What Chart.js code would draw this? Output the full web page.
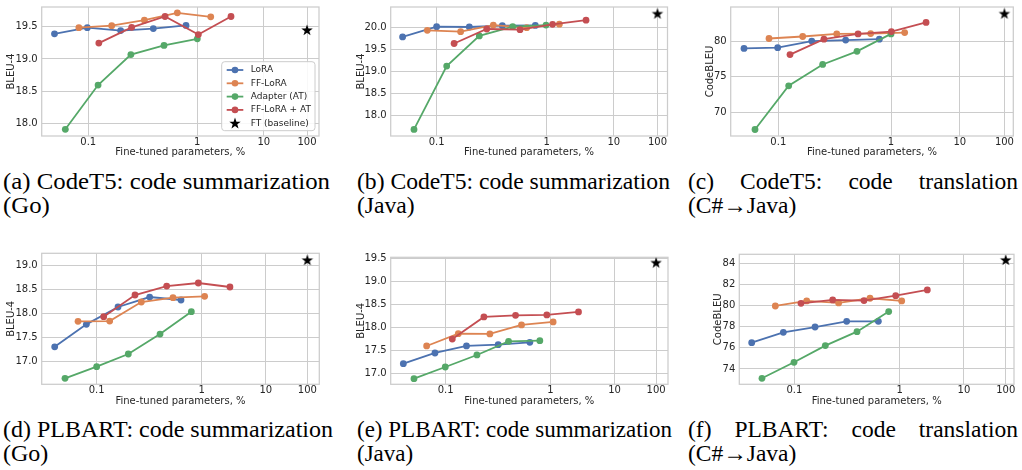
<!DOCTYPE html>
<html>
<head>
<meta charset="utf-8">
<script src="https://cdn.jsdelivr.net/npm/chart.js@4.4.1/dist/chart.umd.min.js"></script>
<style>
html,body{margin:0;padding:0;background:#fff;}
#fig{position:relative;width:1022px;height:470px;overflow:hidden;background:#fff;}
.cap{position:absolute;font-family:"Liberation Serif","Times New Roman",serif;font-size:23.5px;line-height:24px;color:#000;}
.cap div{white-space:nowrap;transform-origin:0 50%;}
.cap .just{text-align:justify;text-align-last:justify;}
.cap span{display:inline-block;}
</style>
</head>
<body>
<div id="fig"></div>
<script>
// ---------------- DATA ----------------
const seriesLabels = ['LoRA', 'FF-LoRA', 'Adapter (AT)', 'FF-LoRA + AT', 'FT (baseline)'];
const xTicks = [0.1, 1, 10, 100];
const xTickLabels = ['0.1', '1', '10', '100'];
const xTitle = 'Fine-tuned parameters, %';
const yTitles = ['BLEU-4', 'BLEU-4', 'CodeBLEU', 'BLEU-4', 'BLEU-4', 'CodeBLEU'];
const captionLine1 = ['(a) CodeT5: code summarization', '(b) CodeT5: code summarization', '(c) CodeT5: code translation',
                      '(d) PLBART: code summarization', '(e) PLBART: code summarization', '(f) PLBART: code translation'];
const captionLine2 = ['(Go)', '(Java)', '(C#\u2192Java)', '(Go)', '(Java)', '(C#\u2192Java)'];
const ftX = [100];

// (a) CodeT5, summarization Go
const aLoraX = [0.049, 0.098, 0.198, 0.395, 0.788];
const aLoraY = [19.39, 19.485, 19.44, 19.47, 19.52];
const aFfLoraX = [0.082, 0.164, 0.327, 0.656, 1.48];
const aFfLoraY = [19.485, 19.515, 19.60, 19.714, 19.653];
const aAdapterX = [0.0616, 0.123, 0.246, 0.495, 1.0];
const aAdapterY = [17.91, 18.595, 19.068, 19.21, 19.312];
const aFfLoraAtX = [0.125, 0.25, 0.506, 1.03, 2.84];
const aFfLoraAtY = [19.246, 19.49, 19.658, 19.378, 19.658];
const aFtY = [19.449];
const aYTicks = [18.0, 18.5, 19.0, 19.5];

// (b) CodeT5, summarization Java
const bLoraX = [0.049, 0.0999, 0.198, 0.395, 0.788];
const bLoraY = [19.79, 20.022, 20.015, 20.045, 20.052];
const bFfLoraX = [0.0822, 0.165, 0.327, 0.658, 1.44];
const bFfLoraY = [19.94, 19.91, 20.06, 20.0, 20.08];
const bAdapterX = [0.0622, 0.1233, 0.244, 0.491, 0.986];
const bAdapterY = [17.687, 19.127, 19.813, 20.022, 20.06];
const bFfLoraAtX = [0.144, 0.285, 0.572, 1.18, 3.41];
const bFfLoraAtY = [19.64, 19.97, 19.955, 20.075, 20.17];
const bFtY = [20.32];
const bYTicks = [18.0, 18.5, 19.0, 19.5, 20.0];

// (c) CodeT5, translation C# -> Java
const cLoraX = [0.0496, 0.0987, 0.198, 0.396, 0.788];
const cLoraY = [79.02, 79.12, 80.05, 80.19, 80.33];
const cFfLoraX = [0.0827, 0.1645, 0.33, 0.66, 1.47];
const cFfLoraY = [80.42, 80.70, 81.07, 81.12, 81.26];
const cAdapterX = [0.0621, 0.1236, 0.2475, 0.499, 1.0];
const cAdapterY = [67.53, 73.72, 76.74, 78.6, 81.07];
const cFfLoraAtX = [0.127, 0.254, 0.51, 1.01, 2.86];
const cFfLoraAtY = [78.14, 80.33, 81.07, 81.40, 82.70];
const cFtY = [83.95];
const cYTicks = [70, 75, 80];

// (d) PLBART, summarization Go
const dLoraX = [0.0398, 0.0797, 0.1596, 0.3195, 0.635];
const dLoraY = [17.31, 17.778, 18.139, 18.347, 18.285];
const dFfLoraX = [0.0664, 0.1329, 0.266, 0.533, 1.09];
const dFfLoraY = [17.84, 17.847, 18.243, 18.333, 18.361];
const dAdapterX = [0.0499, 0.0999, 0.2, 0.401, 0.797];
const dAdapterY = [16.653, 16.896, 17.16, 17.576, 18.042];
const dFfLoraAtX = [0.1165, 0.2316, 0.464, 0.929, 2.45];
const dFfLoraAtY = [17.938, 18.389, 18.576, 18.639, 18.556];
const dFtY = [19.118];
const dYTicks = [17.0, 17.5, 18.0, 18.5, 19.0];

// (e) PLBART, summarization Java
const eLoraX = [0.0395, 0.0791, 0.158, 0.317, 0.635];
const eLoraY = [17.217, 17.448, 17.60, 17.629, 17.679];
const eFfLoraX = [0.0659, 0.132, 0.264, 0.529, 1.08];
const eFfLoraY = [17.60, 17.867, 17.86, 18.055, 18.12];
const eAdapterX = [0.0499, 0.0992, 0.1987, 0.398, 0.791];
const eAdapterY = [16.892, 17.145, 17.405, 17.70, 17.715];
const eFfLoraAtX = [0.1157, 0.2316, 0.464, 0.922, 2.43];
const eFfLoraAtY = [17.75, 18.228, 18.264, 18.272, 18.337];
const eFtY = [19.406];
const eYTicks = [17.0, 17.5, 18.0, 18.5, 19.0, 19.5];

// (f) PLBART, translation C# -> Java
const fLoraX = [0.0393, 0.0785, 0.157, 0.3135, 0.627];
const fLoraY = [76.49, 77.47, 77.97, 78.51, 78.51];
const fFfLoraX = [0.0659, 0.1308, 0.263, 0.522, 1.06];
const fFfLoraY = [79.96, 80.435, 80.246, 80.69, 80.435];
const fAdapterX = [0.0492, 0.0991, 0.1966, 0.393, 0.786];
const fAdapterY = [73.12, 74.63, 76.21, 77.53, 79.43];
const fFfLoraAtX = [0.1155, 0.2309, 0.458, 0.916, 2.39];
const fFfLoraAtY = [80.21, 80.53, 80.47, 80.94, 81.48];
const fFtY = [84.32];
const fYTicks = [74, 76, 78, 80, 82, 84];

// ---------------- SCALE (log below 1 %, compressed above) ----------------
const CA = 0.61, CR = 0.65;
function fwd(x) {
  const u = Math.log10(x);
  return u <= 0 ? u : CA * (1 - Math.pow(CR, u)) / (1 - CR);
}
function inv(t) {
  if (t <= 0) return Math.pow(10, t);
  return Math.pow(10, Math.log(1 - t * (1 - CR) / CA) / Math.log(CR));
}
class CompressedLogScale extends Chart.Scale {
  static id = 'compressedLog';
  static defaults = {};
  determineDataLimits() { this.min = this.options.min; this.max = this.options.max; }
  buildTicks() { return (this.options.tickValues || []).map(v => ({ value: v })); }
  getLabelForValue(v) { return String(v); }
  configure() {
    super.configure();
    this._tStart = fwd(this.min);
    this._tRange = fwd(this.max) - this._tStart;
  }
  getPixelForValue(v) {
    if (v === null || v === undefined || isNaN(v)) return NaN;
    return this.getPixelForDecimal((fwd(v) - this._tStart) / this._tRange);
  }
  getValueForPixel(p) { return inv(this._tStart + this.getDecimalForPixel(p) * this._tRange); }
}
Chart.register(CompressedLogScale);

// ---------------- STYLE ----------------
const COLORS = ['#4C72B0', '#DD8452', '#55A868', '#C44E52'];
const TEXT = '#262626';
const GRID = '#cccccc';
Chart.defaults.font.family = "'DejaVu Sans', sans-serif";
Chart.defaults.font.size = 10;
Chart.defaults.color = TEXT;

function starPath(ctx, cx, cy, ro, ri) {
  ctx.beginPath();
  for (let k = 0; k < 10; k++) {
    const r = k % 2 === 0 ? ro : ri;
    const a = -Math.PI / 2 + k * Math.PI / 5;
    const px = cx + r * Math.cos(a), py = cy + r * Math.sin(a);
    if (k === 0) ctx.moveTo(px, py); else ctx.lineTo(px, py);
  }
  ctx.closePath();
}
const starImg = document.createElement('canvas');
starImg.width = 14; starImg.height = 14;
(function () { const c = starImg.getContext('2d'); starPath(c, 7, 7.4, 6, 2.4); c.fillStyle = '#000'; c.fill(); })();

const framePlugin = {
  id: 'frame',
  beforeDatasetsDraw(chart) {
    const { ctx, chartArea: a } = chart;
    ctx.save();
    ctx.strokeStyle = GRID; ctx.lineWidth = 1.25;
    ctx.strokeRect(a.left, a.top, a.right - a.left, a.bottom - a.top);
    ctx.restore();
  }
};
const legendPlugin = {
  id: 'legendBox',
  afterDatasetsDraw(chart, args, opts) {
    if (!opts || !opts.show) return;
    const { ctx, chartArea: a } = chart;
    const w = 93.3, h = 69;
    const x = a.right - 4 - w, y = a.bottom - 5.3 - h;
    ctx.save();
    ctx.beginPath();
    const r = 3;
    ctx.moveTo(x + r, y); ctx.lineTo(x + w - r, y); ctx.arcTo(x + w, y, x + w, y + r, r);
    ctx.lineTo(x + w, y + h - r); ctx.arcTo(x + w, y + h, x + w - r, y + h, r);
    ctx.lineTo(x + r, y + h); ctx.arcTo(x, y + h, x, y + h - r, r);
    ctx.lineTo(x, y + r); ctx.arcTo(x, y, x + r, y, r); ctx.closePath();
    ctx.fillStyle = 'rgba(255,255,255,0.85)'; ctx.fill();
    ctx.strokeStyle = GRID; ctx.lineWidth = 1; ctx.stroke();
    ctx.font = "9px 'DejaVu Sans', sans-serif";
    ctx.textBaseline = 'middle';
    chart.data.datasets.forEach((ds, i) => {
      const cy = y + 8.3 + i * 13.3;
      if (ds.showLine) {
        ctx.strokeStyle = ds.borderColor; ctx.lineWidth = ds.borderWidth;
        ctx.beginPath(); ctx.moveTo(x + 5, cy); ctx.lineTo(x + 21.6, cy); ctx.stroke();
        ctx.fillStyle = ds.borderColor;
        ctx.beginPath(); ctx.arc(x + 13.3, cy, 3.3, 0, Math.PI * 2); ctx.fill();
      } else {
        ctx.fillStyle = '#000'; starPath(ctx, x + 13.3, cy + 0.4, 6, 2.4); ctx.fill();
      }
      ctx.fillStyle = TEXT;
      ctx.fillText(ds.label, x + 29, cy);
    });
    ctx.restore();
  }
};

function pts(xs, ys) { return xs.map((x, i) => ({ x: x, y: ys[i] })); }
function lineDs(k, xs, ys) {
  return {
    label: seriesLabels[k], data: pts(xs, ys), showLine: true,
    borderColor: COLORS[k], backgroundColor: COLORS[k], pointBackgroundColor: COLORS[k],
    borderWidth: 1.8, pointRadius: 3.4, pointHoverRadius: 3.4, pointBorderWidth: 0,
    fill: false, tension: 0, order: 4 - k
  };
}
function ftDs(ys) {
  return { label: seriesLabels[4], data: pts(ftX, ys), showLine: false, pointStyle: starImg,
           pointRadius: 6, backgroundColor: '#000', borderColor: '#000', order: 0 };
}

// layout of each panel (canvas box, padding, axis sizes, view ranges)
const panels = [
  { left: 0, top: 0, w: 330, h: 165, pad: { left: 5.7, top: 5, right: 11, bottom: 6.3 }, yW: 36, xH: 22.7,
    xRange: [0.0374, 237], yRange: [17.806, 19.805], yTicks: aYTicks, dec: 1, yTitle: yTitles[0], legend: true,
    ds: [lineDs(0, aLoraX, aLoraY), lineDs(1, aFfLoraX, aFfLoraY), lineDs(2, aAdapterX, aAdapterY), lineDs(3, aFfLoraAtX, aFfLoraAtY), ftDs(aFtY)] },
  { left: 345, top: 0, w: 330, h: 165, pad: { left: 10.7, top: 5, right: 7.5, bottom: 6.3 }, yW: 35, xH: 22.7,
    xRange: [0.0382, 203], yRange: [17.537, 20.47], yTicks: bYTicks, dec: 1, yTitle: yTitles[1], legend: false,
    ds: [lineDs(0, bLoraX, bLoraY), lineDs(1, bFfLoraX, bFfLoraY), lineDs(2, bAdapterX, bAdapterY), lineDs(3, bFfLoraAtX, bFfLoraAtY), ftDs(bFtY)] },
  { left: 690, top: 0, w: 332, h: 165, pad: { left: 14.7, top: 5, right: 8.7, bottom: 6.3 }, yW: 26, xH: 22.7,
    xRange: [0.0378, 183], yRange: [66.61, 84.88], yTicks: cYTicks, dec: 0, yTitle: yTitles[2], legend: false,
    ds: [lineDs(0, cLoraX, cLoraY), lineDs(1, cFfLoraX, cFfLoraY), lineDs(2, cAdapterX, cAdapterY), lineDs(3, cFfLoraAtX, cFfLoraAtY), ftDs(cFtY)] },
  { left: 0, top: 240, w: 330, h: 172, pad: { left: 5.7, top: 13.3, right: 10.7, bottom: 5 }, yW: 36, xH: 22.7,
    xRange: [0.02993, 245], yRange: [16.529, 19.258], yTicks: dYTicks, dec: 1, yTitle: yTitles[3], legend: false,
    ds: [lineDs(0, dLoraX, dLoraY), lineDs(1, dFfLoraX, dFfLoraY), lineDs(2, dAdapterX, dAdapterY), lineDs(3, dFfLoraAtX, dFfLoraAtY), ftDs(dFtY)] },
  { left: 345, top: 240, w: 330, h: 172, pad: { left: 10.7, top: 17.3, right: 6.7, bottom: 5 }, yW: 35, xH: 22.7,
    xRange: [0.02993, 245], yRange: [16.77, 19.52], yTicks: eYTicks, dec: 1, yTitle: yTitles[4], legend: false,
    ds: [lineDs(0, eLoraX, eLoraY), lineDs(1, eFfLoraX, eFfLoraY), lineDs(2, eAdapterX, eAdapterY), lineDs(3, eFfLoraAtX, eFfLoraAtY), ftDs(eFtY)] },
  { left: 690, top: 240, w: 332, h: 172, pad: { left: 22.3, top: 14.3, right: 8, bottom: 5 }, yW: 27, xH: 22.7,
    xRange: [0.02997, 183], yRange: [72.55, 84.85], yTicks: fYTicks, dec: 0, yTitle: yTitles[5], legend: false,
    ds: [lineDs(0, fLoraX, fLoraY), lineDs(1, fFfLoraX, fFfLoraY), lineDs(2, fAdapterX, fAdapterY), lineDs(3, fFfLoraAtX, fFfLoraAtY), ftDs(fFtY)] }
];

// caption boxes: position, target width of first line, justify flag
const captionBoxes = [
  { left: 3, top: 169, w: 327, just: false }, { left: 357, top: 169, w: 313, just: false }, { left: 688, top: 169, w: 330, just: true },
  { left: 3, top: 417, w: 330, just: false }, { left: 357, top: 417, w: 315, just: false }, { left: 688, top: 417, w: 330, just: true }
];

const fig = document.getElementById('fig');

panels.forEach(p => {
  const cv = document.createElement('canvas');
  cv.width = p.w; cv.height = p.h;
  cv.style.cssText = 'position:absolute;left:' + p.left + 'px;top:' + p.top + 'px;width:' + p.w + 'px;height:' + p.h + 'px;';
  fig.appendChild(cv);
  new Chart(cv.getContext('2d'), {
    type: 'scatter',
    data: { datasets: p.ds },
    options: {
      responsive: false, animation: false, devicePixelRatio: 1,
      layout: { padding: p.pad },
      plugins: { legend: { display: false }, tooltip: { enabled: false }, legendBox: { show: p.legend } },
      scales: {
        x: {
          type: 'compressedLog', min: p.xRange[0], max: p.xRange[1], tickValues: xTicks,
          grid: { color: GRID, lineWidth: 1, drawTicks: false }, border: { display: false },
          ticks: { padding: 0, autoSkip: false, maxRotation: 0, color: TEXT, font: { size: 10 },
                   callback: (v, i) => xTickLabels[i] },
          title: { display: true, text: xTitle, padding: 0, color: TEXT, font: { size: 10 } },
          afterFit: s => { s.height = p.xH; s.paddingLeft = 0; s.paddingRight = 0; }
        },
        y: {
          type: 'linear', min: p.yRange[0], max: p.yRange[1],
          afterBuildTicks: s => { s.ticks = p.yTicks.map(v => ({ value: v })); },
          grid: { color: GRID, lineWidth: 1, drawTicks: false }, border: { display: false },
          ticks: { padding: 4, autoSkip: false, color: TEXT, font: { size: 10 },
                   callback: v => Number(v).toFixed(p.dec) },
          title: { display: true, text: p.yTitle, padding: 0, color: TEXT, font: { size: 10 } },
          afterFit: s => { s.width = p.yW; s.paddingTop = 0; s.paddingBottom = 0; }
        }
      }
    },
    plugins: [framePlugin, legendPlugin]
  });
});

captionBoxes.forEach((c, i) => {
  const d = document.createElement('div');
  d.className = 'cap';
  d.style.left = c.left + 'px'; d.style.top = c.top + 'px';
  fig.appendChild(d);
  const l1 = document.createElement('div');
  const l2 = document.createElement('div');
  d.appendChild(l1); d.appendChild(l2);
  if (c.just) {
    d.style.width = c.w + 'px';
    l1.className = 'just';
    l1.textContent = captionLine1[i];
    l2.textContent = captionLine2[i];
  } else {
    const s1 = document.createElement('span'); s1.textContent = captionLine1[i]; l1.appendChild(s1);
    const s2 = document.createElement('span'); s2.textContent = captionLine2[i]; l2.appendChild(s2);
    const k = c.w / s1.getBoundingClientRect().width;
    l1.style.transform = 'scaleX(' + k + ')';
    l2.style.transform = 'scaleX(' + k + ')';
  }
});
</script>
</body>
</html>
